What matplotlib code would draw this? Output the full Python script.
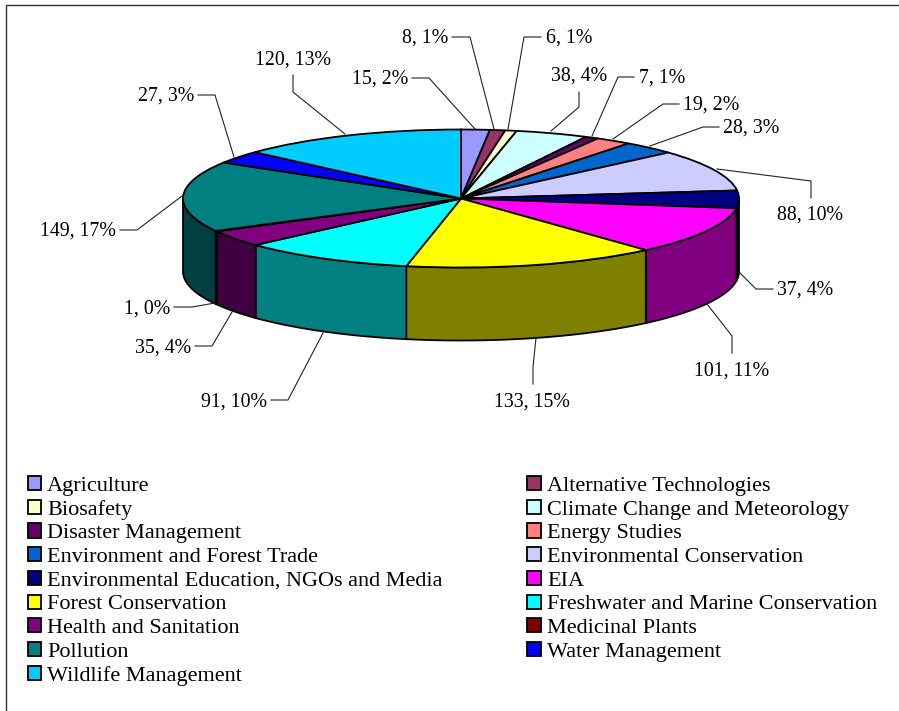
#!/usr/bin/python3
import numpy as np
import matplotlib
matplotlib.use('Agg')
import matplotlib.pyplot as plt
from matplotlib.lines import Line2D

plt.rcParams['font.family'] = ['Liberation Serif', 'DejaVu Serif']

## == data ==
categories = ['Agriculture', 'Alternative Technologies', 'Biosafety', 'Climate Change and Meteorology',
              'Disaster Management', 'Energy Studies', 'Environment and Forest Trade', 'Environmental Conservation',
              'Environmental Education, NGOs and Media', 'EIA', 'Forest Conservation',
              'Freshwater and Marine Conservation', 'Health and Sanitation', 'Medicinal Plants',
              'Pollution', 'Water Management', 'Wildlife Management']
values = [15, 8, 6, 38, 7, 19, 28, 88, 37, 101, 133, 91, 35, 1, 149, 27, 120]
colors = ['#9999FF', '#993366', '#FFFFCC', '#CCFFFF', '#660066', '#FF8080', '#0066CC', '#CCCCFF',
          '#000080', '#FF00FF', '#FFFF00', '#00FFFF', '#800080', '#800000', '#008080', '#0000FF', '#00CCFF']

## == layout in image pixels ==
W, H = 899, 711
cx, cy = 461.0, 198.5 # pie centre
rx, ry = 278.0, 69.0  # ellipse radii
depth = 73.0
# label anchor (x, y, ha) and leader line for every slice
label_pos = [(408, 79, 'right'), (448, 38, 'right'), (546, 38, 'left'), (551, 76, 'left'),
             (639, 78, 'left'), (683, 105, 'left'), (723, 128, 'left'), (777, 215, 'left'),
             (777, 290, 'left'), (694, 371, 'left'), (570, 402, 'right'), (267, 402, 'right'),
             (191, 348, 'right'), (170, 309, 'right'), (116, 231, 'right'), (194, 96, 'right'),
             (255, 60, 'left')]
leaders = [[(412, 78), (429, 78), (475, 129)], [(452, 37), (470, 37), (494, 129)],
           [(541, 37), (524, 37), (508, 129)], [(579, 92), (579, 107), (551, 131)],
           [(634, 77), (618, 77), (592, 136)], [(679, 104), (663, 104), (613, 139)],
           [(719, 127), (703, 127), (650, 146)], [(811, 198), (811, 181), (717, 169)],
           [(773, 289), (756, 289), (739, 272)], [(732, 353), (732, 336), (707, 304)],
           [(533, 384), (533, 367), (536, 338)], [(271, 400), (288, 400), (323, 333)],
           [(195, 346), (212, 346), (232, 312)], [(174, 307), (192, 307), (215, 303)],
           [(120, 230), (137, 230), (182, 196)], [(198, 95), (215, 95), (234, 157)],
           [(293, 75), (293, 92), (345, 134)]]

fig = plt.figure(figsize=(W/100, H/100), dpi=100, facecolor='white')

## == pie top, squashed by the non equal axes ==
ax = fig.add_axes([0, 0, 1, 1])
wedges, _ = ax.pie(values, colors=colors, startangle=90, counterclock=False,
                   wedgeprops=dict(edgecolor='black', linewidth=1.3, zorder=3))
ax.set_aspect('auto')
ax.set_xlim(-cx/rx, (W-cx)/rx)
ax.set_ylim((cy-H)/ry, cy/ry)

## == side wall, only the front half is visible ==
edges = np.cumsum([0] + values)/np.sum(values)*360.
h = depth/ry
for i, col in enumerate(colors):
    a0, a1 = max(edges[i], 90.), min(edges[i+1], 270.)
    if a1 <= a0:
        continue
    t = np.radians(np.linspace(a0, a1, 60))
    xs, ys = np.sin(t), np.cos(t)
    side = tuple(np.array(matplotlib.colors.to_rgb(col))*.5)
    ax.fill(np.r_[xs, xs[::-1]], np.r_[ys, ys[::-1]-h], facecolor=side, edgecolor='black', lw=1.3, zorder=2)

## == labels, leaders, legend drawn in pixel coordinates ==
ov = fig.add_axes([0, 0, 1, 1])
ov.set_xlim(0, W)
ov.set_ylim(H, 0)
ov.axis('off')
ov.patch.set_alpha(0)

total = sum(values)
for v, (x, y, ha), pts in zip(values, label_pos, leaders):
    ov.text(x, y, '%d, %d%%' % (v, round(100.*v/total)), ha=ha, va='center', fontsize=14.3, color='black')
    ov.plot([p[0] for p in pts], [p[1] for p in pts], color='#222222', lw=.8)

# legend is filled row by row in the original
order = list(range(0, 17, 2)) + list(range(1, 17, 2))
handles = [plt.Rectangle((0, 0), 1, 1, facecolor=colors[i], edgecolor='black', lw=1.3) for i in order]
ov.legend(handles, [categories[i] for i in order], ncol=2, loc='upper left', bbox_to_anchor=(27.5/W, 1-476/H),
          frameon=False, fontsize=16, handlelength=.6, handleheight=.6, handletextpad=.28,
          labelspacing=.172, columnspacing=3.82, borderpad=0, borderaxespad=0)

# frame, only top and left show in the original
fig.add_artist(Line2D([6/W, 6/W, 1], [0, 1-5/H, 1-5/H], color='#333333', lw=1.))

fig.savefig('out.png', dpi=100)
